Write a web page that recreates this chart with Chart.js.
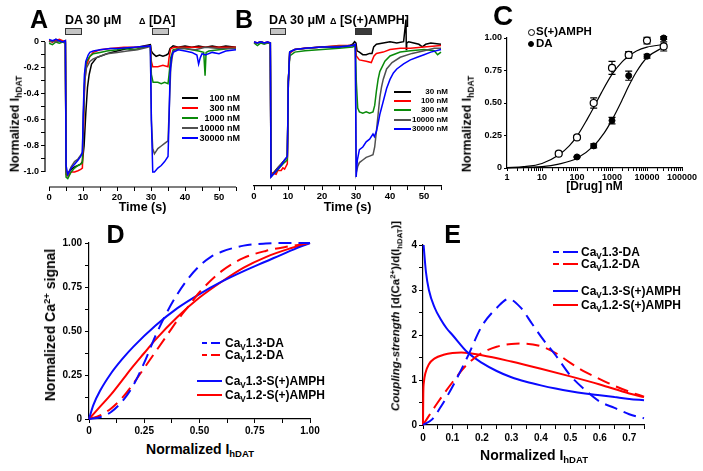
<!DOCTYPE html>
<html>
<head>
<meta charset="utf-8">
<title>hDAT currents and Ca2+ coupling</title>
<script src="https://cdn.jsdelivr.net/npm/chart.js@4.4.0/dist/chart.umd.min.js"></script>
<style>
  body { margin: 0; background: #fff; }
  #fig { position: relative; width: 703px; height: 471px; overflow: hidden; font-family: Arial, "Liberation Sans", sans-serif; }
  #fig canvas { position: absolute; }
  .t { position: absolute; font-weight: bold; line-height: 1; white-space: nowrap; color: #000; }
  .ctr { transform: translate(-50%, -50%); }
  .rot { transform: translate(-50%, -50%) rotate(-90deg); }
  .l { transform: translateY(-50%); }
  .r { transform: translate(-100%, -50%); }
  .sb { font-size: 68%; position: relative; top: 0.35em; }
  .sp { font-size: 68%; position: relative; top: -0.55em; }
  .bar { position: absolute; box-sizing: border-box; height: 7px; border: 1px solid #333; }
  .key { position: absolute; height: 2px; }
  .mk { position: absolute; box-sizing: border-box; border-radius: 50%; border: 1.2px solid #000; }
</style>
</head>
<body>
<div id="fig">
  <canvas id="cA" width="250" height="215" style="left:0;top:0"></canvas>
  <canvas id="cB" width="214" height="214" style="left:244px;top:0"></canvas>
  <canvas id="cC" width="260" height="200" style="left:460px;top:0"></canvas>
  <canvas id="cD" width="300" height="215" style="left:40px;top:225px"></canvas>
  <canvas id="cE" width="323" height="225" style="left:380px;top:225px"></canvas>

  <!-- panel letters -->
  <div class="t ctr" style="left:39px;top:18.5px;font-size:25px">A</div>
  <div class="t ctr" style="left:244px;top:18.5px;font-size:25px">B</div>
  <div class="t ctr" style="left:503px;top:16px;font-size:28px">C</div>
  <div class="t ctr" style="left:115.5px;top:233.5px;font-size:25px">D</div>
  <div class="t ctr" style="left:452.5px;top:233.5px;font-size:25px">E</div>

  <!-- application bars A -->
  <div class="t l" style="left:65px;top:20px;font-size:12.5px">DA 30 &mu;M</div>
  <div class="t l" style="left:139px;top:20px;font-size:12.5px"><span style="font-size:9px">&Delta;</span> [DA]</div>
  <div class="bar" style="left:65px;top:28px;width:17px;background:#c4c4c4"></div>
  <div class="bar" style="left:152px;top:28px;width:17px;background:#c4c4c4"></div>
  <!-- application bars B -->
  <div class="t l" style="left:269px;top:20px;font-size:12.5px">DA 30 &mu;M</div>
  <div class="t l" style="left:330px;top:20px;font-size:12.5px"><span style="font-size:9px">&Delta;</span> [S(+)AMPH]</div>
  <div class="bar" style="left:270px;top:28px;width:16px;background:#c4c4c4"></div>
  <div class="bar" style="left:355px;top:28px;width:17px;background:#3a3a3a"></div>

  <!-- legend A -->
  <div class="key" style="left:182px;top:97px;width:16px;background:#000"></div>
  <div class="key" style="left:182px;top:107px;width:16px;background:#ff0000"></div>
  <div class="key" style="left:182px;top:116.5px;width:16px;background:#0a8a0a"></div>
  <div class="key" style="left:182px;top:126.5px;width:16px;background:#505050"></div>
  <div class="key" style="left:182px;top:136.5px;width:16px;background:#0000ff"></div>
  <div class="t r" style="left:240px;top:98px;font-size:9px">100 nM</div>
  <div class="t r" style="left:240px;top:108px;font-size:9px">300 nM</div>
  <div class="t r" style="left:240px;top:117.5px;font-size:9px">1000 nM</div>
  <div class="t r" style="left:240px;top:127.5px;font-size:9px">10000 nM</div>
  <div class="t r" style="left:240px;top:137.5px;font-size:9px">30000 nM</div>
  <!-- legend B -->
  <div class="key" style="left:394px;top:91px;width:17px;background:#000"></div>
  <div class="key" style="left:394px;top:100px;width:17px;background:#ff0000"></div>
  <div class="key" style="left:394px;top:109px;width:17px;background:#0a8a0a"></div>
  <div class="key" style="left:394px;top:119px;width:17px;background:#505050"></div>
  <div class="key" style="left:394px;top:128px;width:17px;background:#0000ff"></div>
  <div class="t r" style="left:448px;top:92px;font-size:8px">30 nM</div>
  <div class="t r" style="left:448px;top:101px;font-size:8px">100 nM</div>
  <div class="t r" style="left:448px;top:110px;font-size:8px">300 nM</div>
  <div class="t r" style="left:448px;top:120px;font-size:8px">10000 nM</div>
  <div class="t r" style="left:448px;top:129px;font-size:8px">30000 nM</div>

  <!-- legend C -->
  <div class="mk" style="left:527.5px;top:28.5px;width:7px;height:7px;background:#fff"></div>
  <div class="mk" style="left:528px;top:40.5px;width:6px;height:6px;background:#000"></div>
  <div class="t l" style="left:536px;top:32px;font-size:11.5px">S(+)AMPH</div>
  <div class="t l" style="left:536px;top:44px;font-size:11.5px">DA</div>

  <!-- legend D -->
  <svg style="position:absolute;left:200px;top:339px" width="24" height="24">
    <line x1="2" y1="4" x2="20" y2="4" stroke="#0a0aff" stroke-width="2" stroke-dasharray="5,4,12"/>
    <line x1="2" y1="16" x2="20" y2="16" stroke="#ff0000" stroke-width="2" stroke-dasharray="5,4,12"/>
  </svg>
  <div class="key" style="left:197px;top:380px;width:25px;background:#0a0aff"></div>
  <div class="key" style="left:197px;top:394px;width:25px;background:#ff0000"></div>
  <div class="t l" style="left:225px;top:343px;font-size:12px">Ca<span class="sb">V</span>1.3-DA</div>
  <div class="t l" style="left:225px;top:355px;font-size:12px">Ca<span class="sb">V</span>1.2-DA</div>
  <div class="t l" style="left:225px;top:381px;font-size:12px">Ca<span class="sb">V</span>1.3-S(+)AMPH</div>
  <div class="t l" style="left:225px;top:395px;font-size:12px">Ca<span class="sb">V</span>1.2-S(+)AMPH</div>

  <!-- legend E -->
  <svg style="position:absolute;left:551px;top:248px" width="30" height="24">
    <line x1="2" y1="4" x2="27" y2="4" stroke="#0a0aff" stroke-width="2" stroke-dasharray="6,4,15"/>
    <line x1="2" y1="16" x2="27" y2="16" stroke="#ff0000" stroke-width="2" stroke-dasharray="6,4,15"/>
  </svg>
  <div class="key" style="left:553px;top:290px;width:25px;background:#0a0aff"></div>
  <div class="key" style="left:553px;top:304px;width:25px;background:#ff0000"></div>
  <div class="t l" style="left:581px;top:252px;font-size:12px">Ca<span class="sb">V</span>1.3-DA</div>
  <div class="t l" style="left:581px;top:264px;font-size:12px">Ca<span class="sb">V</span>1.2-DA</div>
  <div class="t l" style="left:581px;top:291px;font-size:12px">Ca<span class="sb">V</span>1.3-S(+)AMPH</div>
  <div class="t l" style="left:581px;top:305px;font-size:12px">Ca<span class="sb">V</span>1.2-S(+)AMPH</div>

  <!-- axis titles -->
  <div class="t rot" style="left:15px;top:124px;font-size:12.5px">Normalized I<span class="sb">hDAT</span></div>
  <div class="t ctr" style="left:142.5px;top:207px;font-size:12.5px">Time (s)</div>
  <div class="t ctr" style="left:347.5px;top:207px;font-size:12.5px">Time (s)</div>
  <div class="t rot" style="left:467px;top:124px;font-size:12.5px">Normalized I<span class="sb">hDAT</span></div>
  <div class="t ctr" style="left:594.5px;top:186px;font-size:12px">[Drug] nM</div>
  <div class="t rot" style="left:50px;top:325px;font-size:14px">Normalized Ca<span class="sp">2+</span> signal</div>
  <div class="t ctr" style="left:200px;top:449px;font-size:14px">Normalized I<span class="sb">hDAT</span></div>
  <div class="t rot" style="left:396px;top:316px;font-size:11.5px"><i>Coupling-strength</i> [d(Ca<span class="sp">2+</span>)/d(I<span class="sb">hDAT</span>)]</div>
  <div class="t ctr" style="left:534px;top:455px;font-size:14px">Normalized I<span class="sb">hDAT</span></div>
</div>

<script>
// ---------- A: responses to DA (time s, normalized current) ----------
const aBlackT = [0, 1, 2, 3, 4, 4.8, 5.0, 5.5, 6.5, 7.5, 8.5, 9.3, 9.8, 10.3, 10.8, 11.3, 11.8, 12.5, 14, 17, 20, 23, 26, 29.8, 30.1, 30.6, 31.5, 32.5, 33.5, 34.5, 35.1, 35.6, 36.5, 38, 40, 42, 44, 46, 48, 50, 52, 55];
const aBlackV = [0.01, 0, 0.02, 0.01, 0, 0.01, -1.0, -1.01, -0.98, -0.96, -0.95, -0.94, -0.92, -0.8, -0.55, -0.35, -0.25, -0.17, -0.12, -0.09, -0.07, -0.05, -0.04, -0.02, -0.07, -0.09, -0.11, -0.1, -0.11, -0.1, -0.09, -0.05, -0.03, -0.04, -0.03, -0.04, -0.03, -0.04, -0.03, -0.04, -0.03, -0.04];
const aRedT = [0, 1, 2, 3, 4, 4.8, 5.0, 5.5, 6.5, 7.5, 8.5, 9.3, 9.8, 10.1, 10.5, 11, 12, 13, 15, 18, 22, 26, 29.8, 30.1, 30.5, 32, 33.5, 35, 35.3, 35.8, 37, 40, 45, 50, 55];
const aRedV = [0.01, 0, 0.01, 0.02, 0.01, 0, -1.02, -1.03, -1.0, -1.0, -0.99, -0.98, -0.97, -0.7, -0.3, -0.18, -0.11, -0.08, -0.06, -0.05, -0.04, -0.04, -0.03, -0.15, -0.19, -0.19, -0.18, -0.19, -0.12, -0.05, -0.04, -0.04, -0.04, -0.04, -0.04];
const aGreenT = [0, 1, 2, 3, 4, 4.8, 5.0, 5.5, 6.5, 7.5, 8.5, 9.3, 9.8, 10.1, 10.5, 11, 12, 13, 15, 17, 20, 22, 25, 28, 29.8, 30.1, 30.6, 32, 33, 34, 35, 35.3, 35.8, 36.5, 38, 40, 42, 44, 45.5, 45.9, 46.2, 47, 50, 53, 55];
const aGreenV = [-0.01, -0.02, 0, -0.01, 0, -0.01, -1.04, -1.05, -1.0, -0.97, -0.95, -0.94, -0.93, -0.6, -0.25, -0.15, -0.11, -0.09, -0.08, -0.07, -0.06, -0.05, -0.06, -0.04, -0.03, -0.25, -0.31, -0.31, -0.32, -0.31, -0.32, -0.25, -0.12, -0.06, -0.05, -0.05, -0.06, -0.07, -0.08, -0.26, -0.08, -0.07, -0.06, -0.05, -0.05];
const aGrayT = [0, 1, 2, 3, 4, 4.8, 5.0, 5.5, 6.5, 7.5, 8.5, 9.3, 9.8, 10.1, 10.5, 11, 12, 13, 15, 17, 20, 23, 26, 29, 29.8, 30.1, 30.5, 31, 32, 33, 34, 35, 35.3, 35.8, 36.5, 38, 40, 43, 46, 50, 55];
const aGrayV = [0, 0.01, 0, 0.01, 0, 0, -1.0, -1.02, -0.96, -0.92, -0.9, -0.87, -0.85, -0.55, -0.3, -0.2, -0.15, -0.13, -0.11, -0.09, -0.08, -0.07, -0.06, -0.04, -0.03, -0.6, -0.82, -0.86, -0.82, -0.8, -0.78, -0.76, -0.55, -0.2, -0.07, -0.05, -0.05, -0.06, -0.04, -0.05, -0.05];
const aBlueT = [0, 1, 2, 3, 4, 4.8, 5.0, 5.5, 6.5, 7.5, 8.5, 9.3, 9.8, 10.1, 10.4, 10.8, 11.5, 12, 13, 15, 18, 20, 25, 29.8, 30.1, 30.5, 31, 32, 33, 34, 35, 35.3, 35.6, 36, 36.5, 38, 40, 42, 43.5, 44, 44.5, 45, 46, 48, 50, 52, 55];
const aBlueV = [0.02, 0.01, 0.02, 0.01, 0, 0.01, -0.95, -1.02, -0.97, -0.94, -0.91, -0.88, -0.85, -0.5, -0.25, -0.15, -0.1, -0.08, -0.07, -0.06, -0.05, -0.05, -0.04, -0.03, -0.6, -1.0, -1.0, -0.97, -0.95, -0.92, -0.88, -0.6, -0.25, -0.12, -0.08, -0.06, -0.07, -0.08, -0.1, -0.17, -0.12, -0.09, -0.1, -0.08, -0.09, -0.07, -0.06];

// ---------- B: responses to S(+)AMPH ----------
const bBlackT = [0, 1, 2, 3, 4, 4.8, 5.0, 6, 7, 8, 9, 9.8, 10.1, 10.5, 12, 15, 20, 25, 28, 29, 29.6, 30.0, 30.3, 31, 32, 33, 34, 34.7, 35.2, 36, 38, 40, 42, 44, 44.7, 44.8, 44.9, 45.5, 47, 48.5, 49.5, 50.5, 52, 55];
const bBlackV = [0, 0, 0.01, 0, 0, 0, -1.02, -0.99, -0.96, -0.93, -0.9, -0.88, -0.3, -0.07, -0.05, -0.04, -0.03, -0.03, -0.02, -0.01, 0.01, 0.0, -0.06, -0.07, -0.09, -0.09, -0.08, -0.08, -0.03, -0.01, 0, 0.01, 0, 0.01, 0.18, -0.05, 0, 0.01, 0, -0.01, -0.03, -0.01, 0, -0.01];
const bRedT = [0, 1, 2, 3, 4, 4.8, 5.0, 5.5, 6.5, 7, 8, 8.5, 9, 9.8, 10.1, 10.5, 12, 15, 20, 25, 29, 29.8, 30.1, 31, 33, 34.5, 35.3, 36, 38, 40, 43, 46, 50, 55];
const bRedV = [0.01, 0, 0.01, 0, 0.01, 0, -1.02, -1.0, -1.01, -0.98, -0.98, -0.96, -0.97, -0.93, -0.3, -0.08, -0.05, -0.04, -0.03, -0.02, -0.02, -0.01, -0.1, -0.13, -0.14, -0.15, -0.1, -0.08, -0.07, -0.05, -0.04, -0.04, -0.03, -0.02];
const bGreenT = [0, 1, 2, 3, 4, 4.8, 5.0, 5.5, 6.5, 7.5, 8.5, 9.8, 10.1, 10.5, 12, 15, 20, 25, 29, 29.8, 30.1, 30.5, 31, 32, 33, 34, 35, 35.5, 36, 36.5, 37, 38.5, 40, 43, 46, 50, 53, 54, 55];
const bGreenV = [0, -0.02, 0, -0.01, 0, 0, -1.02, -1.01, -0.99, -0.96, -0.93, -0.9, -0.3, -0.1, -0.07, -0.06, -0.05, -0.04, -0.03, -0.02, -0.3, -0.5, -0.53, -0.54, -0.53, -0.54, -0.53, -0.48, -0.37, -0.28, -0.22, -0.14, -0.1, -0.07, -0.06, -0.05, -0.06, -0.09, -0.07];
const bGrayT = [0, 1, 2, 3, 4, 4.8, 5.0, 6, 7, 8, 9, 9.8, 10.1, 10.5, 12, 20, 29, 29.8, 30.05, 30.5, 31, 32, 33, 34, 35, 35.5, 36, 36.5, 37, 37.5, 38, 39, 40.6, 43, 46.5, 50, 53, 55];
const bGrayV = [0, 0, 0.01, 0, 0, 0, -1.03, -1.0, -0.96, -0.93, -0.9, -0.88, -0.3, -0.07, -0.05, -0.03, -0.02, -0.01, -1.0, -0.95, -0.92, -0.9, -0.88, -0.87, -0.86, -0.8, -0.68, -0.55, -0.42, -0.34, -0.28, -0.2, -0.15, -0.11, -0.08, -0.06, -0.04, -0.04];
const bBlueT = [0, 1, 2, 3, 4, 4.8, 5.0, 6, 7, 8, 9, 9.8, 10.1, 10.5, 12, 15, 20, 25, 29, 29.8, 30.05, 30.4, 31, 32, 33, 34, 35, 35.4, 36, 36.5, 37, 38, 39, 40, 41, 42, 44, 46, 48, 50, 52, 55];
const bBlueV = [0.01, 0, 0.01, 0, 0.01, 0, -1.03, -1.0, -0.97, -0.94, -0.9, -0.87, -0.3, -0.07, -0.05, -0.04, -0.03, -0.03, -0.02, -0.01, -1.03, -0.9, -0.82, -0.8, -0.76, -0.74, -0.7, -0.72, -0.68, -0.62, -0.55, -0.45, -0.35, -0.28, -0.23, -0.2, -0.16, -0.13, -0.11, -0.09, -0.07, -0.05];

// ---------- C: concentration-response ----------
const cAmphX = [30, 100, 300, 1000, 3000, 10000, 30000];
const cAmphY = [0.11, 0.235, 0.50, 0.77, 0.87, 0.98, 0.935];
const cAmphErr = [0.005, 0.01, 0.04, 0.05, 0.025, 0.025, 0.035];
const cDaX = [100, 300, 1000, 3000, 10000, 30000];
const cDaY = [0.085, 0.17, 0.365, 0.71, 0.86, 1.0];
const cDaErr = [0.005, 0.015, 0.025, 0.035, 0.015, 0.01];
const cAmphFitX = [1, 3, 10, 30, 60, 100, 200, 300, 500, 1000, 2000, 3000, 5000, 10000, 30000];
const cAmphFitY = [0.003, 0.01, 0.035, 0.1, 0.17, 0.245, 0.38, 0.465, 0.58, 0.72, 0.82, 0.86, 0.9, 0.93, 0.95];
const cDaFitX = [1, 10, 30, 100, 300, 600, 1000, 2000, 3000, 5000, 10000, 30000];
const cDaFitY = [0.001, 0.01, 0.03, 0.075, 0.17, 0.27, 0.37, 0.53, 0.63, 0.74, 0.85, 0.93];
const cXLabels = [1, 10, 100, 1000, 10000, 100000];
const cMinorSteps = [1, 2, 3, 4, 5, 6, 7, 8, 9];

// ---------- D: Ca2+ signal vs normalized IhDAT ----------
const dBlueDashX = [0, 0.05, 0.1, 0.15, 0.2, 0.25, 0.3, 0.35, 0.4, 0.45, 0.5, 0.55, 0.6, 0.7, 0.8, 0.9, 1];
const dBlueDashY = [0, 0.01, 0.04, 0.1, 0.19, 0.32, 0.47, 0.6, 0.71, 0.8, 0.87, 0.92, 0.95, 0.985, 0.997, 1, 1];
const dRedDashX = [0, 0.05, 0.1, 0.15, 0.2, 0.25, 0.3, 0.35, 0.4, 0.45, 0.5, 0.6, 0.7, 0.8, 0.9, 1];
const dRedDashY = [0, 0.02, 0.06, 0.12, 0.2, 0.29, 0.38, 0.47, 0.56, 0.64, 0.72, 0.84, 0.915, 0.955, 0.98, 1];
const dBlueSolidX = [0, 0.02, 0.05, 0.1, 0.15, 0.2, 0.3, 0.4, 0.5, 0.6, 0.7, 0.8, 0.9, 1];
const dBlueSolidY = [0, 0.08, 0.16, 0.26, 0.34, 0.41, 0.53, 0.63, 0.71, 0.78, 0.84, 0.895, 0.95, 1];
const dRedSolidX = [0, 0.05, 0.1, 0.15, 0.2, 0.25, 0.3, 0.4, 0.5, 0.6, 0.7, 0.8, 0.9, 1];
const dRedSolidY = [0, 0.07, 0.14, 0.22, 0.3, 0.375, 0.45, 0.58, 0.69, 0.78, 0.86, 0.92, 0.965, 1];

// ---------- E: coupling strength ----------
const eBlueDashX = [0, 0.03, 0.06, 0.1, 0.15, 0.2, 0.25, 0.29, 0.33, 0.37, 0.41, 0.45, 0.5, 0.55, 0.6, 0.65, 0.7, 0.75];
const eBlueDashY = [0, 0.12, 0.4, 0.85, 1.5, 2.2, 2.6, 2.8, 2.62, 2.25, 1.88, 1.55, 1.1, 0.78, 0.52, 0.38, 0.24, 0.15];
const eRedDashX = [0, 0.05, 0.1, 0.15, 0.2, 0.25, 0.3, 0.34, 0.4, 0.45, 0.5, 0.55, 0.6, 0.65, 0.7, 0.75];
const eRedDashY = [0, 0.5, 0.95, 1.35, 1.6, 1.74, 1.8, 1.81, 1.75, 1.6, 1.38, 1.18, 1.02, 0.87, 0.74, 0.63];
const eBlueSolidX = [0.002, 0.01, 0.02, 0.04, 0.06, 0.08, 0.1, 0.15, 0.2, 0.25, 0.3, 0.35, 0.4, 0.45, 0.5, 0.55, 0.6, 0.65, 0.7, 0.75];
const eBlueSolidY = [4.0, 3.4, 3.0, 2.6, 2.35, 2.15, 2.0, 1.62, 1.38, 1.2, 1.06, 0.96, 0.88, 0.81, 0.75, 0.7, 0.66, 0.62, 0.58, 0.55];
const eRedSolidX = [0, 0.001, 0.003, 0.008, 0.02, 0.04, 0.07, 0.1, 0.13, 0.2, 0.3, 0.4, 0.5, 0.6, 0.7, 0.75];
const eRedSolidY = [0, 0.7, 0.95, 1.15, 1.35, 1.48, 1.56, 1.6, 1.61, 1.55, 1.41, 1.25, 1.08, 0.9, 0.7, 0.62];

// tick positions
const abXTicks = [0, 5, 10, 15, 20, 25, 30, 35, 40, 45, 50, 55];
const aYTicks = [0, -0.1, -0.2, -0.3, -0.4, -0.5, -0.6, -0.7, -0.8, -0.9, -1.0];
const cYTicks = [0, 0.25, 0.5, 0.75, 1];
const dTicks = [0, 0.125, 0.25, 0.375, 0.5, 0.625, 0.75, 0.875, 1];
const eYTicks = [0, 0.5, 1, 1.5, 2, 2.5, 3, 3.5, 4];
const eXTicks = [0, 0.05, 0.1, 0.15, 0.2, 0.25, 0.3, 0.35, 0.4, 0.45, 0.5, 0.55, 0.6, 0.65, 0.7, 0.75];

const BLACK = '#000000', RED = '#ff0000', GREEN = '#0a8a0a', GRAY = '#505050', BLUE = '#0000ff';
const CBLUE = '#0a0aff';

Chart.defaults.font.family = 'Arial, "Liberation Sans", sans-serif';
Chart.defaults.font.weight = 'bold';
Chart.defaults.color = '#000';

const xy = (xs, ys) => xs.map((x, i) => ({ x: x, y: ys[i] }));

function axis(o) {
  return {
    type: o.type || 'linear',
    display: o.display !== false,
    position: o.pos,
    min: o.min,
    max: o.max,
    afterFit: s => { if (o.pos === 'left') s.width = o.size; else s.height = o.size; },
    afterBuildTicks: s => { s.ticks = o.ticks.map(v => ({ value: v })); },
    grid: { drawOnChartArea: false, drawTicks: true, tickLength: o.tickLen || 4, tickColor: '#000', tickWidth: 1 },
    border: { display: o.border !== false, color: '#000', width: 1.2 },
    ticks: {
      autoSkip: false, maxRotation: 0, minRotation: 0,
      padding: o.pad === undefined ? 2 : o.pad,
      font: { size: o.fontSize || 10, weight: 'bold' },
      color: '#000',
      callback: o.fmt
    }
  };
}

function baseOptions(padding, scales) {
  return {
    responsive: false, animation: false, devicePixelRatio: 1, events: [],
    layout: { padding: padding },
    plugins: { legend: { display: false }, tooltip: { enabled: false } },
    scales: scales
  };
}

function trace(t, v, color, order) {
  return { data: xy(t, v), borderColor: color, borderWidth: 1.5, pointRadius: 0, order: order, clip: false };
}

function curve(xs, ys, color, dashed) {
  return {
    data: xy(xs, ys), borderColor: color, borderWidth: 2, borderDash: dashed ? [13, 7] : [],
    pointRadius: 0, cubicInterpolationMode: 'monotone', clip: false
  };
}

const timeFmt = v => (v % 10 === 0 ? String(v) : '');

// A has its own axis lines: y only spans 0..-1, x starts at t = 0
const offsetAxes = {
  id: 'offsetAxes',
  afterDraw(chart) {
    const { ctx, chartArea, scales: { x, y } } = chart;
    ctx.save();
    ctx.strokeStyle = '#000';
    ctx.lineWidth = 1.2;
    ctx.beginPath();
    ctx.moveTo(x.getPixelForValue(0), chartArea.bottom);
    ctx.lineTo(x.getPixelForValue(55), chartArea.bottom);
    ctx.moveTo(chartArea.left, y.getPixelForValue(0));
    ctx.lineTo(chartArea.left, y.getPixelForValue(-1));
    ctx.stroke();
    ctx.restore();
  }
};

new Chart(document.getElementById('cA'), {
  type: 'line',
  data: { datasets: [
    trace(aBlackT, aBlackV, BLACK, 4),
    trace(aRedT, aRedV, RED, 3),
    trace(aGreenT, aGreenV, GREEN, 2),
    trace(aGrayT, aGrayV, GRAY, 1),
    trace(aBlueT, aBlueV, BLUE, 0)
  ] },
  options: baseOptions({ left: 0, right: 14, top: 35, bottom: 0 }, {
    x: axis({ pos: 'bottom', min: -1.2, max: 55, size: 28, ticks: abXTicks, fmt: timeFmt, fontSize: 9.5, pad: 1, border: false }),
    y: axis({ pos: 'left', min: -1.1154, max: 0.0538, size: 45, ticks: aYTicks, fontSize: 9, pad: 2, border: false,
      fmt: v => (Math.round(v * 10) % 2 === 0 ? (v === 0 ? '0' : v.toFixed(1)) : '') })
  }),
  plugins: [offsetAxes]
});

new Chart(document.getElementById('cB'), {
  type: 'line',
  data: { datasets: [
    trace(bBlackT, bBlackV, BLACK, 4),
    trace(bRedT, bRedV, RED, 3),
    trace(bGreenT, bGreenV, GREEN, 2),
    trace(bGrayT, bGrayV, GRAY, 1),
    trace(bBlueT, bBlueV, BLUE, 0)
  ] },
  options: baseOptions({ left: 10, right: 17, top: 36, bottom: 0 }, {
    x: axis({ pos: 'bottom', min: 0, max: 55, size: 28, ticks: abXTicks, fmt: timeFmt, fontSize: 9.5, pad: 1 }),
    y: { display: false, min: -1.1, max: 0.0538 }
  })
});

// C: error bars drawn under the markers
const errorBars = {
  id: 'errorBars',
  beforeDatasetsDraw(chart) {
    const { ctx, scales: { x, y } } = chart;
    ctx.save();
    ctx.strokeStyle = '#000';
    ctx.lineWidth = 1.2;
    [[cAmphX, cAmphY, cAmphErr], [cDaX, cDaY, cDaErr]].forEach(([xs, ys, es]) => {
      xs.forEach((xv, i) => {
        const px = x.getPixelForValue(xv);
        const top = y.getPixelForValue(ys[i] + es[i]);
        const bot = y.getPixelForValue(ys[i] - es[i]);
        ctx.beginPath();
        ctx.moveTo(px, top); ctx.lineTo(px, bot);
        ctx.moveTo(px - 3.5, top); ctx.lineTo(px + 3.5, top);
        ctx.moveTo(px - 3.5, bot); ctx.lineTo(px + 3.5, bot);
        ctx.stroke();
      });
    });
    ctx.restore();
  }
};

const cXTicks = [];
cXLabels.slice(0, -1).forEach(d => cMinorSteps.forEach(m => cXTicks.push(d * m)));
cXTicks.push(100000);

new Chart(document.getElementById('cC'), {
  type: 'line',
  data: { datasets: [
    { data: xy(cAmphX, cAmphY), showLine: false, pointRadius: 3.5, pointBackgroundColor: '#fff', pointBorderColor: '#000', pointBorderWidth: 1.2, clip: false },
    { data: xy(cDaX, cDaY), showLine: false, pointRadius: 3, pointBackgroundColor: '#000', pointBorderColor: '#000', pointBorderWidth: 1, clip: false },
    { data: xy(cAmphFitX, cAmphFitY), borderColor: '#000', borderWidth: 1.2, pointRadius: 0, cubicInterpolationMode: 'monotone', clip: false },
    { data: xy(cDaFitX, cDaFitY), borderColor: '#000', borderWidth: 1.2, pointRadius: 0, cubicInterpolationMode: 'monotone', clip: false }
  ] },
  options: baseOptions({ left: 0, right: 38, top: 38, bottom: 0 }, {
    x: axis({ type: 'logarithmic', pos: 'bottom', min: 1, max: 100000, size: 32, ticks: cXTicks, tickLen: 3, pad: 1, fontSize: 9,
      fmt: v => (cXLabels.includes(v) ? String(v) : '') }),
    y: axis({ pos: 'left', min: 0, max: 1, size: 47, ticks: cYTicks, tickLen: 3, pad: 2, fontSize: 9,
      fmt: v => (v === 0 ? '0' : v.toFixed(2)) })
  }),
  plugins: [errorBars]
});

new Chart(document.getElementById('cD'), {
  type: 'line',
  data: { datasets: [
    curve(dBlueDashX, dBlueDashY, CBLUE, true),
    curve(dRedDashX, dRedDashY, RED, true),
    curve(dBlueSolidX, dBlueSolidY, CBLUE, false),
    curve(dRedSolidX, dRedSolidY, RED, false)
  ] },
  options: baseOptions({ left: 0, right: 30, top: 18, bottom: 0 }, {
    x: axis({ pos: 'bottom', min: 0, max: 1, size: 21, ticks: dTicks, pad: 2, fontSize: 10,
      fmt: v => ((v * 4) % 1 === 0 ? (v === 0 ? '0' : v.toFixed(2)) : '') }),
    y: axis({ pos: 'left', min: 0, max: 1, size: 49, ticks: dTicks, pad: 3, fontSize: 10,
      fmt: v => ((v * 4) % 1 === 0 ? (v === 0 ? '0' : v.toFixed(2)) : '') })
  })
});

new Chart(document.getElementById('cE'), {
  type: 'line',
  data: { datasets: [
    curve(eBlueDashX, eBlueDashY, CBLUE, true),
    curve(eRedDashX, eRedDashY, RED, true),
    curve(eBlueSolidX, eBlueSolidY, CBLUE, false),
    curve(eRedSolidX, eRedSolidY, RED, false)
  ] },
  options: baseOptions({ left: 0, right: 59, top: 20, bottom: 0 }, {
    x: axis({ pos: 'bottom', min: 0, max: 0.75, size: 25, ticks: eXTicks, pad: 3, fontSize: 10,
      fmt: v => (Math.round(v * 100) % 10 === 0 ? (v === 0 ? '0' : v.toFixed(1)) : '') }),
    y: axis({ pos: 'left', min: 0, max: 4, size: 43, ticks: eYTicks, pad: 2, fontSize: 10,
      fmt: v => (v % 1 === 0 ? String(v) : '') })
  })
});
</script>
</body>
</html>
